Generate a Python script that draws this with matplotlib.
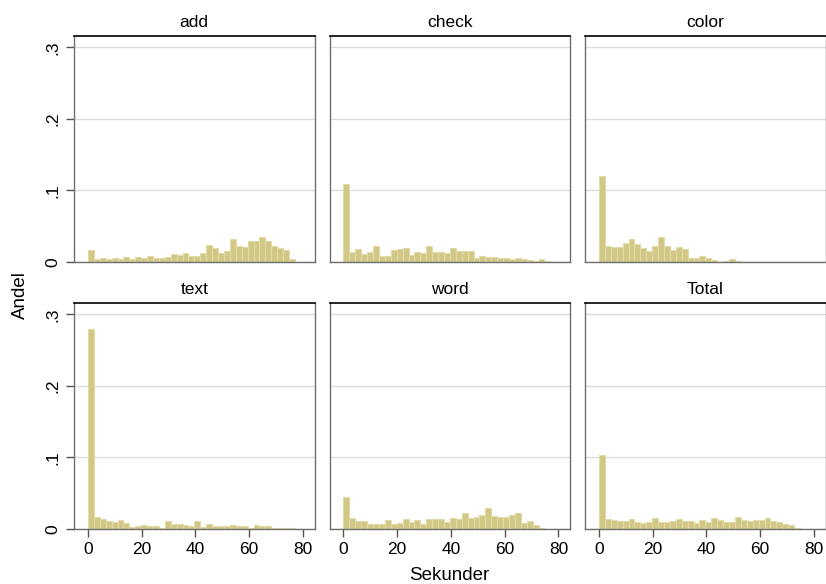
import matplotlib
matplotlib.use('Agg')
import matplotlib.pyplot as plt

plt.rcParams['font.family'] = ['Liberation Sans', 'DejaVu Sans']

# bin start and width (seconds)
bin_start = 0.0
bin_width = 2.2

groups = ['add', 'check', 'color', 'text', 'word', 'Total']

# fraction per bin
add = [0.017, 0.004, 0.005, 0.004, 0.005, 0.004, 0.0065, 0.004, 0.007, 0.005,
       0.008, 0.005, 0.0055, 0.007, 0.011, 0.010, 0.0125, 0.009, 0.009, 0.013,
       0.024, 0.0195, 0.0125, 0.0155, 0.032, 0.022, 0.021, 0.029, 0.030, 0.035,
       0.029, 0.022, 0.0195, 0.017, 0.004]
check = [0.109, 0.014, 0.018, 0.011, 0.0145, 0.022, 0.0085, 0.009, 0.017, 0.018,
         0.0195, 0.0095, 0.014, 0.013, 0.022, 0.014, 0.014, 0.012, 0.019, 0.015,
         0.015, 0.016, 0.006, 0.009, 0.0075, 0.007, 0.005, 0.005, 0.004, 0.005,
         0.004, 0.003, 0.002, 0.004, 0.002]
color = [0.120, 0.022, 0.0215, 0.0205, 0.0265, 0.032, 0.025, 0.0195, 0.0155, 0.023,
         0.035, 0.022, 0.017, 0.0215, 0.018, 0.0055, 0.006, 0.008, 0.005, 0.003,
         0.0, 0.002, 0.004, 0.002]
text = [0.280, 0.0172, 0.0135, 0.0117, 0.0098, 0.013, 0.0079, 0.0023, 0.0042, 0.006,
        0.0047, 0.0047, 0.002, 0.0107, 0.0075, 0.0075, 0.0051, 0.0042, 0.0117, 0.003,
        0.0075, 0.0042, 0.0037, 0.0042, 0.0051, 0.0037, 0.0037, 0.0014, 0.0051, 0.0037,
        0.0047, 0.001, 0.001, 0.0014, 0.001]
word = [0.045, 0.0157, 0.011, 0.0106, 0.0065, 0.0065, 0.007, 0.013, 0.0074, 0.0083,
        0.0143, 0.0097, 0.012, 0.0065, 0.0143, 0.0134, 0.0134, 0.0097, 0.0148, 0.0134,
        0.0227, 0.0148, 0.017, 0.0194, 0.030, 0.0185, 0.0167, 0.017, 0.0194, 0.0227,
        0.0083, 0.0106, 0.005, 0.001]
total = [0.103, 0.0134, 0.0125, 0.011, 0.011, 0.0143, 0.010, 0.0088, 0.010, 0.0148,
         0.0093, 0.0093, 0.011, 0.0143, 0.0106, 0.011, 0.0088, 0.012, 0.0097, 0.0148,
         0.012, 0.0093, 0.010, 0.017, 0.012, 0.011, 0.012, 0.013, 0.0157, 0.011,
         0.0093, 0.0065, 0.005, 0.0019]

data = [add, check, color, text, word, total]

yticks = [0, 0.1, 0.2, 0.3]
ytick_labels = ['0', '.1', '.2', '.3']
xticks = [0, 20, 40, 60, 80]

W, H = 826, 584
fig = plt.figure(figsize=(W / 100, H / 100), dpi=100)

col_left = [74, 329.5, 585]
row_top = [35.7, 302.7]
pw, ph = 240.5, 226.3

for i, (name, vals) in enumerate(zip(groups, data)):
    r, c = divmod(i, 3)
    x0 = col_left[c] / W
    y0 = 1 - (row_top[r] + ph) / H
    ax = fig.add_axes([x0, y0, pw / W, ph / H])
    lefts = [bin_start + k * bin_width for k in range(len(vals))]
    ax.bar(lefts, vals, width=bin_width, align='edge',
           color='#d1c886', edgecolor='#e2dba9', linewidth=0.8, zorder=2)
    ax.set_xlim(-5.2, 84.3)
    ax.set_ylim(0, 0.3165)
    ax.set_yticks(yticks)
    ax.set_xticks(xticks)
    ax.grid(axis='y', color='#dcdcdc', linewidth=1.0, zorder=0)
    for s in ['left', 'right', 'bottom']:
        ax.spines[s].set_color('#6e6e6e')
        ax.spines[s].set_linewidth(1.0)
    ax.spines['top'].set_color('black')
    ax.spines['top'].set_linewidth(1.2)
    ax.tick_params(axis='both', direction='out', length=6, width=1,
                   color='#555555', labelsize=12.5)
    if c == 0:
        ax.set_yticklabels(ytick_labels, rotation=90, va='center')
    else:
        ax.tick_params(axis='y', left=False, labelleft=False)
    if r == 1:
        ax.set_xticklabels([str(t) for t in xticks])
    else:
        ax.tick_params(axis='x', bottom=False, labelbottom=False)
    ax.set_title(name, fontsize=12.5, pad=6)

fig.text(20 / W, 1 - 295 / H, 'Andel', rotation=90, ha='center', va='center', fontsize=13.5)
fig.text(449 / W, 1 - 575 / H, 'Sekunder', ha='center', va='center', fontsize=13.5)

fig.savefig('out.png', dpi=100)
